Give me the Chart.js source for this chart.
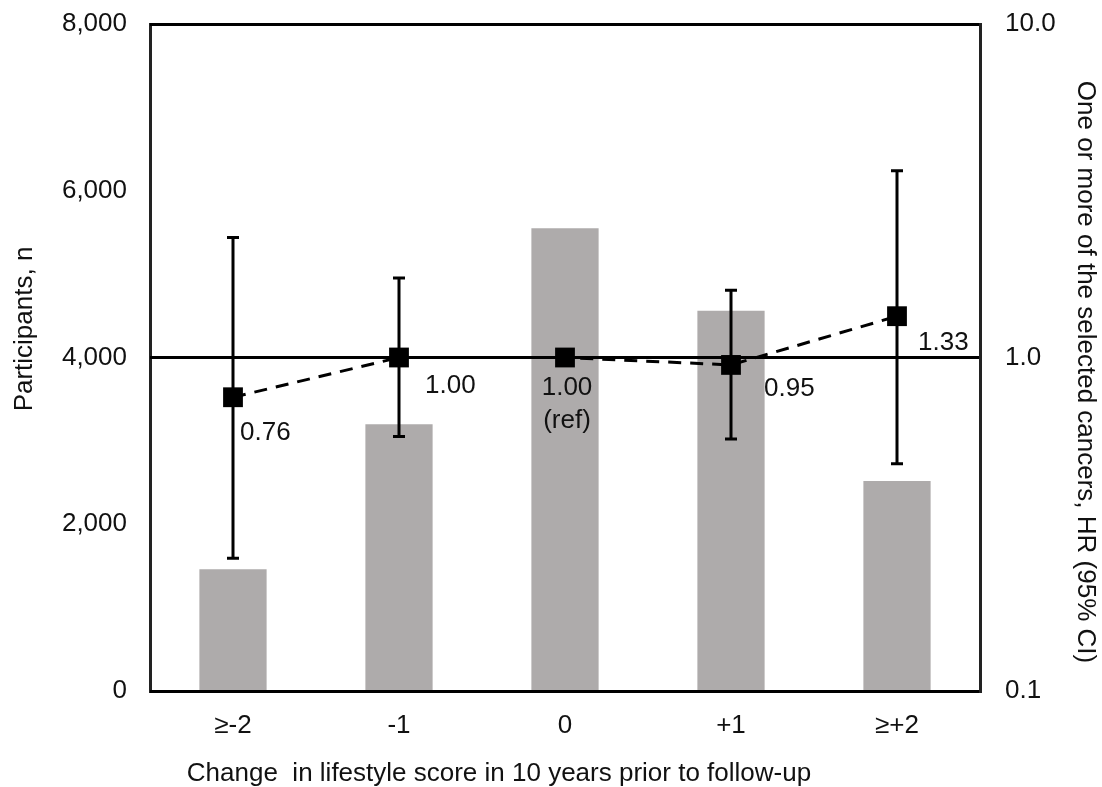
<!DOCTYPE html>
<html><head><meta charset="utf-8">
<script src="https://cdn.jsdelivr.net/npm/chart.js@4.4.1/dist/chart.umd.min.js"></script>
<style>html,body{margin:0;padding:0;background:#fff;} #wrap{width:1102px;height:787px;}</style>
</head><body>
<div id="wrap"><canvas id="c" width="1102" height="787"></canvas></div>
<script>
// ---- data ----
const categories = ['≥-2', '-1', '0', '+1', '≥+2'];
const participants = [1460, 3200, 5550, 4560, 2520];
const hr = [0.76, 1.00, 1.00, 0.95, 1.33];
const ciLow = [0.25, 0.58, null, 0.57, 0.48];
const ciHigh = [2.29, 1.73, null, 1.59, 3.63];
const refIndex = 2;
const leftTicks = [0, 2000, 4000, 6000, 8000];
const rightTicks = [0.1, 1, 10];
const xTitle = 'Change  in lifestyle score in 10 years prior to follow-up';
const yTitle = 'Participants, n';
const y1Title = 'One or more of the selected cancers, HR (95% CI)';

// ---- styling ----
const FONT = '"Liberation Sans", Arial, Helvetica, sans-serif';
const FS = 26;
Chart.defaults.font.family = FONT;
Chart.defaults.font.size = FS;
Chart.defaults.color = '#111';

const errorBars = {
  id: 'errorBars',
  afterDatasetsDraw(chart) {
    const meta = chart.getDatasetMeta(0);
    const y1 = chart.scales.y1;
    const ctx = chart.ctx;
    ctx.save();
    ctx.strokeStyle = '#000';
    ctx.lineWidth = 3;
    meta.data.forEach((pt, i) => {
      if (ciLow[i] == null) return;
      const x = pt.x;
      const yl = y1.getPixelForValue(ciLow[i]);
      const yh = y1.getPixelForValue(ciHigh[i]);
      ctx.beginPath();
      ctx.moveTo(x, yl); ctx.lineTo(x, yh);
      ctx.moveTo(x - 6, yl); ctx.lineTo(x + 6, yl);
      ctx.moveTo(x - 6, yh); ctx.lineTo(x + 6, yh);
      ctx.stroke();
    });
    ctx.restore();
  }
};

const pointLabels = {
  id: 'pointLabels',
  afterDraw(chart, args, opts) {
    const meta = chart.getDatasetMeta(0);
    const ctx = chart.ctx;
    ctx.save();
    ctx.font = FS + 'px ' + FONT;
    ctx.fillStyle = '#111';
    ctx.textBaseline = 'middle';
    meta.data.forEach((pt, i) => {
      const o = opts.offsets[i];
      ctx.textAlign = o.align;
      ctx.fillText(hr[i].toFixed(2), pt.x + o.dx, pt.y + o.dy);
      if (i === refIndex) ctx.fillText('(ref)', pt.x + o.dx, pt.y + o.dy + 33);
    });
    ctx.restore();
  }
};

const axisTitles = {
  id: 'axisTitles',
  afterDraw(chart) {
    const ctx = chart.ctx;
    const a = chart.chartArea;
    ctx.save();
    ctx.font = FS + 'px ' + FONT;
    ctx.fillStyle = '#111';
    ctx.textAlign = 'center';
    ctx.textBaseline = 'middle';
    ctx.fillText(xTitle, a.left + 349, 774);
    ctx.save();
    ctx.translate(25, 329);
    ctx.rotate(-Math.PI / 2);
    ctx.fillText(yTitle, 0, 0);
    ctx.restore();
    ctx.save();
    ctx.translate(1085, 372);
    ctx.rotate(Math.PI / 2);
    ctx.fillText(y1Title, 0, 0);
    ctx.restore();
    ctx.restore();
  }
};

function noPad(s) { s.paddingTop = 0; s.paddingBottom = 0; s.paddingLeft = 0; s.paddingRight = 0; }

new Chart(document.getElementById('c'), {
  type: 'bar',
  data: {
    labels: categories,
    datasets: [
      {
        type: 'line', label: 'HR', data: hr, yAxisID: 'y1',
        borderColor: '#000', borderWidth: 3, borderDash: [13, 9],
        pointStyle: 'rect', pointRadius: 14, pointHoverRadius: 14,
        pointBackgroundColor: '#000', pointBorderColor: '#000', pointBorderWidth: 0,
        fill: false, tension: 0, order: 1
      },
      {
        type: 'bar', label: 'Participants', data: participants, yAxisID: 'y',
        backgroundColor: '#AEABAB', barPercentage: 0.405, categoryPercentage: 1, order: 2
      }
    ]
  },
  options: {
    responsive: false,
    animation: false,
    layout: { padding: { top: 24, left: 0, right: 0, bottom: 0 } },
    plugins: {
      legend: { display: false },
      tooltip: { enabled: false },
      pointLabels: {
        offsets: [
          { dx: 7, dy: 36, align: 'left' },
          { dx: 26, dy: 28, align: 'left' },
          { dx: 2, dy: 30, align: 'center' },
          { dx: 33, dy: 24, align: 'left' },
          { dx: 21, dy: 27, align: 'left' }
        ]
      }
    },
    scales: {
      x: {
        grid: { display: false, drawTicks: false },
        border: { display: true, color: '#222', width: 3 },
        ticks: { padding: 19, color: '#111' },
        afterFit(s) { s.height = 96; noPad(s); }
      },
      y: {
        position: 'left', min: 0, max: 8000,
        afterBuildTicks(s) { s.ticks = leftTicks.map(v => ({ value: v })); },
        ticks: { padding: 23, color: '#111', callback: v => Number(v).toLocaleString('en-US') },
        grid: { display: false, drawTicks: false },
        border: { display: true, color: '#222', width: 3 },
        afterFit(s) { s.width = 150; noPad(s); }
      },
      y1: {
        type: 'logarithmic', position: 'right', min: 0.1, max: 10,
        afterBuildTicks(s) { s.ticks = rightTicks.map(v => ({ value: v })); },
        ticks: { padding: 25, color: '#111', callback: v => Number(v).toFixed(1) },
        grid: { drawOnChartArea: true, drawTicks: false, color: '#000', lineWidth: 3, z: 1 },
        border: { display: true, color: '#222', width: 3, z: 2 },
        afterFit(s) { s.width = 122; noPad(s); }
      }
    }
  },
  plugins: [errorBars, pointLabels, axisTitles]
});
</script>
</body></html>
